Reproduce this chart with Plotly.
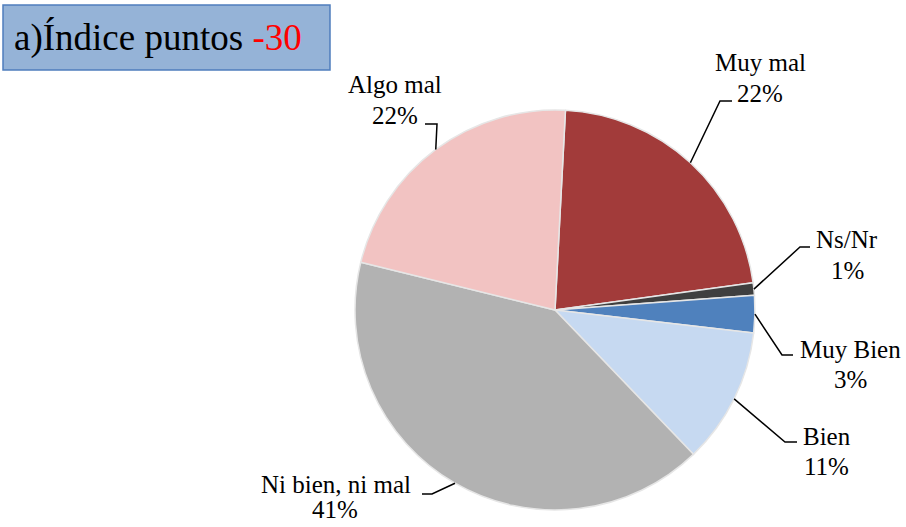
import math
import plotly.graph_objects as go

# ---- data ----
categories = ["Muy mal", "Ns/Nr", "Muy Bien", "Bien", "Ni bien, ni mal", "Algo mal"]
values = [22, 1, 3, 11, 41, 22]
colors = ["#A23B3A", "#3F3F3F", "#4F81BD", "#C6D9F1", "#B2B2B2", "#F2C3C2"]
title_text = "a)Índice puntos "
title_value = "-30"

W, H = 906, 527
ROT = 3  # degrees, clockwise from 12 o'clock
CX, CY, R = 555, 310, 200
SERIF = "Liberation Serif"

# label placement (pixels): name center, pct center, elbow point, line end x
label_pos = {
    "Muy mal": dict(nx=760, ny=62, qx=760, qy=94, ex=720, ey=101, lx=732),
    "Ns/Nr": dict(nx=847, ny=239, qx=847, qy=270, ex=800, ey=247, lx=810),
    "Muy Bien": dict(nx=850, ny=349, qx=850, qy=379, ex=782, ey=355, lx=793),
    "Bien": dict(nx=827, ny=436, qx=826, qy=466, ex=785, ey=442, lx=797),
    "Ni bien, ni mal": dict(nx=336, ny=484, qx=335, qy=509, ex=432, ey=494, lx=422),
    "Algo mal": dict(nx=395, ny=85, qx=395, qy=116, ex=437, ey=124, lx=425),
}


def px(x):
    return x / W


def py(y):
    return 1 - y / H


fig = go.Figure()
fig.add_trace(go.Pie(
    labels=categories,
    values=values,
    sort=False,
    direction="clockwise",
    rotation=ROT,
    textinfo="none",
    hoverinfo="label+percent",
    marker=dict(colors=colors, line=dict(color="#E6E6E6", width=1.5)),
    domain=dict(x=[px(CX - R), px(CX + R)], y=[py(CY + R), py(CY - R)]),
    showlegend=False,
))

total = sum(values)
cum = 0
annotations = []
shapes = []
lab_font = dict(family=SERIF, size=25, color="black")
for cat, v in zip(categories, values):
    mid = (cum + v / 2) / total * 360 + ROT
    cum += v
    a = math.radians(mid)
    x0 = CX + R * math.sin(a)
    y0 = CY - R * math.cos(a)
    p = label_pos[cat]
    shapes.append(dict(
        type="path", xref="paper", yref="paper",
        path=f"M {px(x0)} {py(y0)} L {px(p['ex'])} {py(p['ey'])} L {px(p['lx'])} {py(p['ey'])}",
        line=dict(color="black", width=1.5),
    ))
    pct = round(v / total * 100)
    annotations.append(dict(
        x=px(p["nx"]), y=py(p["ny"]), xref="paper", yref="paper",
        text=cat, showarrow=False, font=lab_font,
        xanchor="center", yanchor="middle",
    ))
    annotations.append(dict(
        x=px(p["qx"]), y=py(p["qy"]), xref="paper", yref="paper",
        text=f"{pct}%", showarrow=False, font=lab_font,
        xanchor="center", yanchor="middle",
    ))

# title box
shapes.append(dict(
    type="rect", xref="paper", yref="paper",
    x0=px(3), x1=px(330), y0=py(70), y1=py(5),
    fillcolor="#95B3D7", line=dict(color="#4F7EBD", width=1.5), layer="below",
))
annotations.append(dict(
    x=px(12), y=py(38), xref="paper", yref="paper",
    text=f"{title_text}<span style='color:#FF0000'>{title_value}</span>",
    showarrow=False, xanchor="left", yanchor="middle",
    font=dict(family=SERIF, size=37, color="black"),
))

fig.update_layout(
    width=W, height=H,
    margin=dict(l=0, r=0, t=0, b=0),
    paper_bgcolor="white", plot_bgcolor="white",
    font=dict(family=SERIF),
    shapes=shapes, annotations=annotations,
)

fig.write_html(
    "out.html",
    config={"displayModeBar": False},
    post_script="document.body.style.margin='0';document.body.style.padding='0';",
)
